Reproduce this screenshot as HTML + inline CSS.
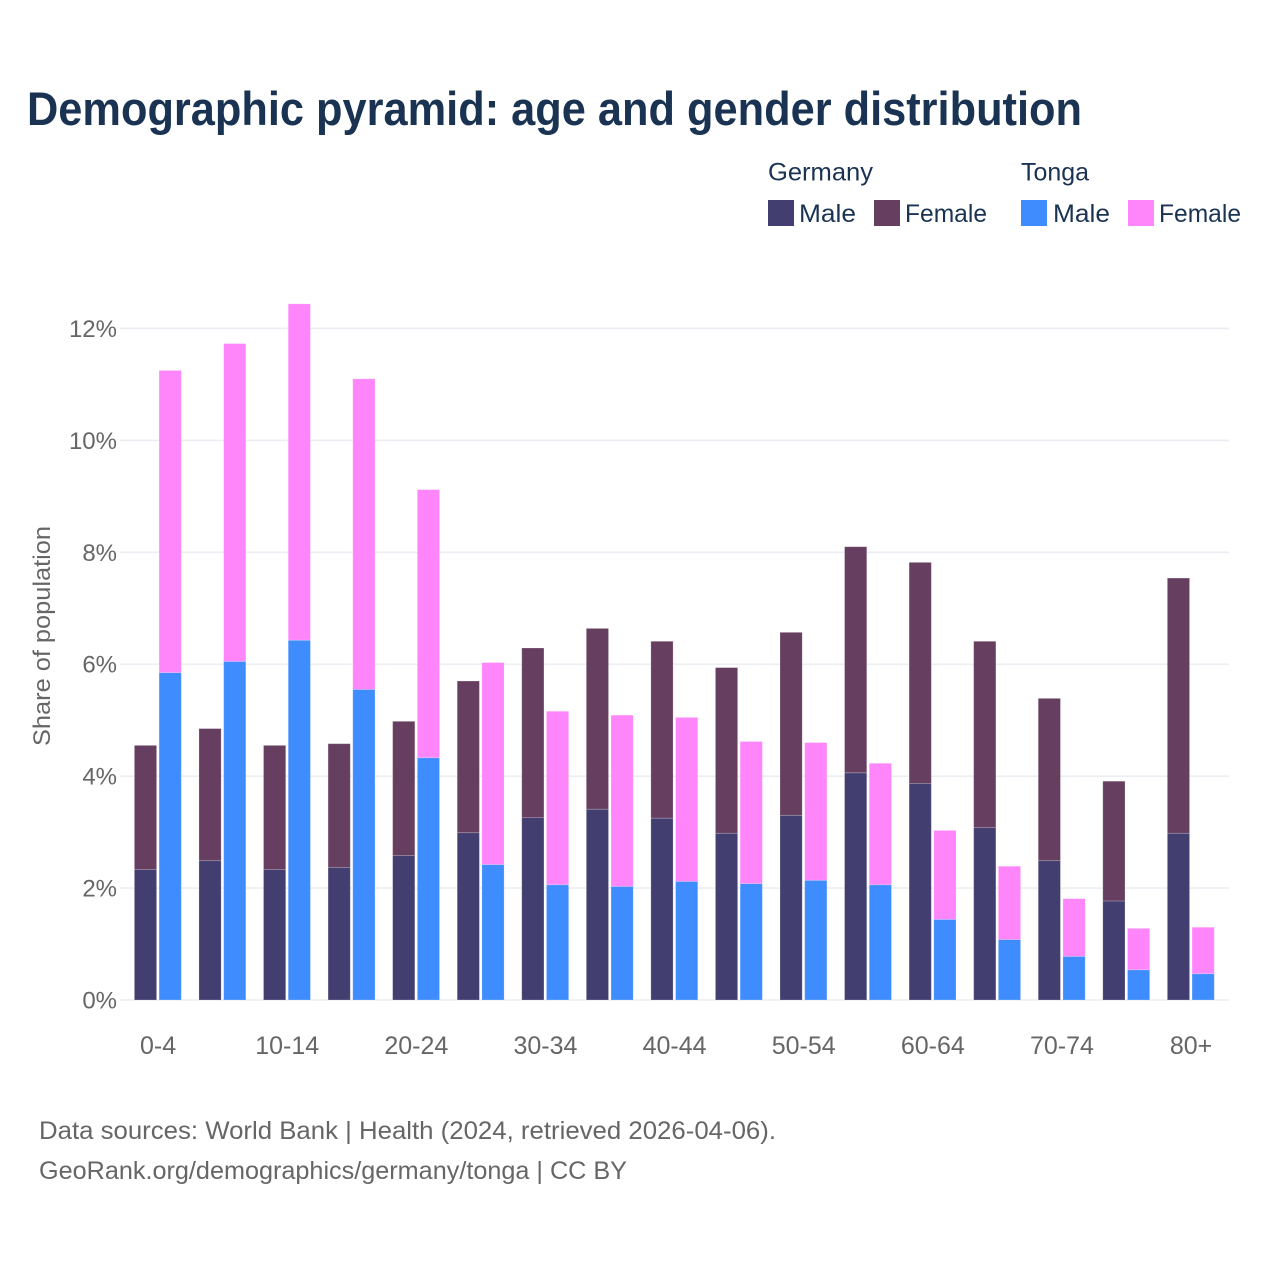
<!DOCTYPE html>
<html lang="en">
<head>
<meta charset="utf-8">
<title>Demographic pyramid: age and gender distribution</title>
<style>
html,body{margin:0;padding:0;background:#fff;}
svg{display:block;font-family:"Liberation Sans",sans-serif;}
</style>
</head>
<body>
<svg id="chart" width="1280" height="1280" viewBox="0 0 1280 1280" xmlns="http://www.w3.org/2000/svg">
  <rect x="0" y="0" width="1280" height="1280" fill="#ffffff"/>
  <text x="27" y="125" font-size="47" font-weight="700" fill="#1a3353" textLength="1055" lengthAdjust="spacingAndGlyphs">Demographic pyramid: age and gender distribution</text>

  <g font-size="25" fill="#1a3353">
    <text x="768" y="180.5" textLength="105" lengthAdjust="spacingAndGlyphs">Germany</text>
    <text x="1021" y="180.5" textLength="68" lengthAdjust="spacingAndGlyphs">Tonga</text>
    <rect x="768" y="200" width="26" height="26" fill="#423f70"/>
    <text x="799" y="222" textLength="57" lengthAdjust="spacingAndGlyphs">Male</text>
    <rect x="874" y="200" width="26" height="26" fill="#663f60"/>
    <text x="905" y="222" textLength="82" lengthAdjust="spacingAndGlyphs">Female</text>
    <rect x="1021" y="200" width="26" height="26" fill="#3f8cff"/>
    <text x="1053" y="222" textLength="57" lengthAdjust="spacingAndGlyphs">Male</text>
    <rect x="1128" y="200" width="26" height="26" fill="#ff85fb"/>
    <text x="1159" y="222" textLength="82" lengthAdjust="spacingAndGlyphs">Female</text>
  </g>

  <g id="grid"></g>
  <g id="y-ticks" font-size="24" fill="#666666" text-anchor="end"></g>
  <g id="bars"></g>
  <g id="x-ticks" font-size="25" fill="#666666" text-anchor="middle"></g>

  <text transform="translate(50,636) rotate(-90)" text-anchor="middle" font-size="24" fill="#666666" textLength="220" lengthAdjust="spacingAndGlyphs">Share of population</text>

  <g font-size="25" fill="#666666">
    <text x="39" y="1139" textLength="737" lengthAdjust="spacingAndGlyphs">Data sources: World Bank | Health (2024, retrieved 2026-04-06).</text>
    <text x="39" y="1179" textLength="588" lengthAdjust="spacingAndGlyphs">GeoRank.org/demographics/germany/tonga | CC BY</text>
  </g>
</svg>
<script>
const categories = ["0-4","5-9","10-14","15-19","20-24","25-29","30-34","35-39","40-44","45-49","50-54","55-59","60-64","65-69","70-74","75-79","80+"];
const germanyMale = [2.33,2.49,2.33,2.37,2.58,2.99,3.26,3.41,3.25,2.98,3.30,4.06,3.87,3.08,2.49,1.77,2.98];
const germanyFemale = [2.22,2.36,2.22,2.21,2.40,2.71,3.03,3.23,3.16,2.96,3.27,4.04,3.95,3.33,2.90,2.14,4.56];
const tongaMale = [5.85,6.05,6.43,5.55,4.33,2.42,2.06,2.03,2.12,2.08,2.14,2.06,1.44,1.08,0.78,0.54,0.47];
const tongaFemale = [5.40,5.68,6.01,5.55,4.79,3.61,3.10,3.06,2.93,2.54,2.46,2.17,1.59,1.31,1.03,0.74,0.83];
const yTickValues = [0,2,4,6,8,10,12];
const yTickLabels = ["0%","2%","4%","6%","8%","10%","12%"];

const NS = "http://www.w3.org/2000/svg";
const colors = {germanyMale:"#423f70", germanyFemale:"#663f60", tongaMale:"#3f8cff", tongaFemale:"#ff85fb"};

function yScale(v){ return 1000 - v * 55.96; }
function bandLeft(i){ return 125.5 + i * 64.56; }
function bandCenter(i){ return bandLeft(i) + 32.6; }

function makeBar(parent, name, x, top, bottom, fill){
  const r = document.createElementNS(NS, "rect");
  r.setAttribute("x", x);
  r.setAttribute("y", top);
  r.setAttribute("width", 22.2);
  r.setAttribute("height", Math.max(0, bottom - top));
  r.setAttribute("fill", fill);
  r.setAttribute("stroke", "#ffffff");
  r.setAttribute("stroke-opacity", "0.25");
  r.setAttribute("stroke-width", "0.8");
  
  
  parent.appendChild(r);
}

const gridG = document.getElementById("grid");
const yG = document.getElementById("y-ticks");
yTickValues.forEach(function(v, i){
  const y = yScale(v);
  const l = document.createElementNS(NS, "line");
  l.setAttribute("x1", 120);
  l.setAttribute("x2", 1229);
  l.setAttribute("y1", y);
  l.setAttribute("y2", y);
  l.setAttribute("stroke", v === 0 ? "#eeeef0" : "#eceef4");
  l.setAttribute("stroke-width", "1.6");
  
  
  gridG.appendChild(l);
  const t = document.createElementNS(NS, "text");
  t.setAttribute("x", 117);
  t.setAttribute("y", y + 8.5);
  t.textContent = yTickLabels[i];
  
  
  yG.appendChild(t);
});

const barsG = document.getElementById("bars");
const xG = document.getElementById("x-ticks");
categories.forEach(function(cat, i){
  const gx = bandLeft(i) + 8.9;
  const tx = bandLeft(i) + 33.6;
  const gm = germanyMale[i], gf = germanyFemale[i], tm = tongaMale[i], tf = tongaFemale[i];
  makeBar(barsG, "bar-germany-male-" + cat, gx, yScale(gm), yScale(0), colors.germanyMale);
  makeBar(barsG, "bar-germany-female-" + cat, gx, yScale(gm + gf), yScale(gm), colors.germanyFemale);
  makeBar(barsG, "bar-tonga-male-" + cat, tx, yScale(tm), yScale(0), colors.tongaMale);
  makeBar(barsG, "bar-tonga-female-" + cat, tx, yScale(tm + tf), yScale(tm), colors.tongaFemale);
  if (i % 2 === 0) {
    const t = document.createElementNS(NS, "text");
    t.setAttribute("x", bandCenter(i));
    t.setAttribute("y", 1054);
    t.textContent = cat;
    
    
    xG.appendChild(t);
  }
});
</script>
</body>
</html>
